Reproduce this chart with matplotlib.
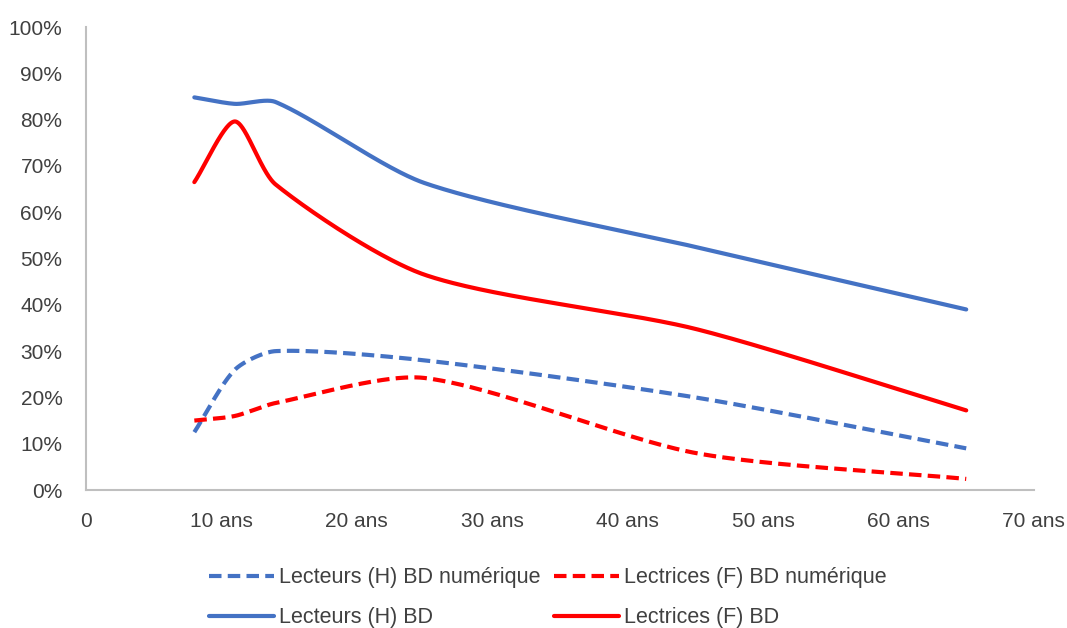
import numpy as np
import matplotlib.pyplot as plt
from matplotlib.ticker import FuncFormatter

plt.rcParams['font.family'] = ['Liberation Sans', 'DejaVu Sans']

# ages (x) and shares of readers in %
ages = [8, 11, 14, 25, 45, 65]
hommes_bd_num = [12.5, 26, 30, 28, 20, 9]
femmes_bd_num = [15, 16, 18.8, 24.2, 8, 2.4]
hommes_bd = [84.8, 83.4, 83.8, 66.3, 52.5, 39]
femmes_bd = [66.5, 79.6, 66, 46.5, 34.8, 17.2]

series_labels = ["Lecteurs (H) BD numérique", "Lecteurs (H) BD",
                 "Lectrices (F) BD numérique", "Lectrices (F) BD"]
x_ticks = [0, 10, 20, 30, 40, 50, 60, 70]
x_ticklabels = ["0", "10 ans", "20 ans", "30 ans", "40 ans", "50 ans", "60 ans", "70 ans"]

BLUE = "#4472C4"
RED = "#FF0000"

# rough screen scale of one x unit and one % (used to weight the smoothing)
SX, SY = 13.6, 4.63
TENSION = 0.26


def smooth(xs, ys, n=80):
    """Bezier smoothing through the points, handles scaled by segment length."""
    p = np.column_stack([np.array(xs, float) * SX, np.array(ys, float) * SY])
    p = np.vstack([p[0], p, p[-1]])
    t = np.linspace(0, 1, n)[:, None]
    out = []
    for i in range(1, len(p) - 2):
        p0, p1, p2, p3 = p[i - 1], p[i], p[i + 1], p[i + 2]
        d01 = np.linalg.norm(p1 - p0)
        d12 = np.linalg.norm(p2 - p1)
        d23 = np.linalg.norm(p3 - p2)
        c1 = p1 + (p2 - p0) * d12 / (d01 + d12) * TENSION
        c2 = p2 - (p3 - p1) * d12 / (d12 + d23) * TENSION
        seg = ((1 - t) ** 3) * p1 + 3 * ((1 - t) ** 2) * t * c1 + 3 * (1 - t) * t ** 2 * c2 + t ** 3 * p2
        out.append(seg if i == 1 else seg[1:])
    out = np.vstack(out)
    return out[:, 0] / SX, out[:, 1] / SY / 100


fig = plt.figure(figsize=(10.67, 6.28), dpi=100)
ax = fig.add_axes([0.0806, 0.2197, 0.8884, 0.7373])

dash = (3.0, 1.5)
x, y = smooth(ages, hommes_bd_num)
ax.plot(x, y, color=BLUE, lw=3, dashes=dash, label=series_labels[0])
x, y = smooth(ages, hommes_bd)
ax.plot(x, y, color=BLUE, lw=3, solid_capstyle='round', label=series_labels[1])
x, y = smooth(ages, femmes_bd_num)
ax.plot(x, y, color=RED, lw=3, dashes=dash, label=series_labels[2])
x, y = smooth(ages, femmes_bd)
ax.plot(x, y, color=RED, lw=3, solid_capstyle='round', label=series_labels[3])

ax.set_xlim(0, 70)
ax.set_ylim(0, 1)
ax.set_xticks(x_ticks)
ax.set_xticklabels(x_ticklabels)
ax.set_yticks(np.arange(0, 1.01, 0.1))
ax.yaxis.set_major_formatter(FuncFormatter(lambda v, _: f"{v * 100:.0f}%"))
ax.tick_params(axis='both', length=0, labelsize=15, colors="#404040")
ax.tick_params(axis='y', pad=17)
ax.tick_params(axis='x', pad=16)

for side in ["top", "right"]:
    ax.spines[side].set_visible(False)
for side in ["left", "bottom"]:
    ax.spines[side].set_color("#BFBFBF")
    ax.spines[side].set_linewidth(1.5)

fig.legend(loc="upper left", bbox_to_anchor=(209 / 1067, 0.097), ncol=2,
           frameon=False, fontsize=15.5, handlelength=3.0, handletextpad=0.25,
           columnspacing=0.65, labelspacing=0.9, borderpad=0, borderaxespad=0,
           labelcolor="#404040")

fig.savefig("out.png", dpi=100)
